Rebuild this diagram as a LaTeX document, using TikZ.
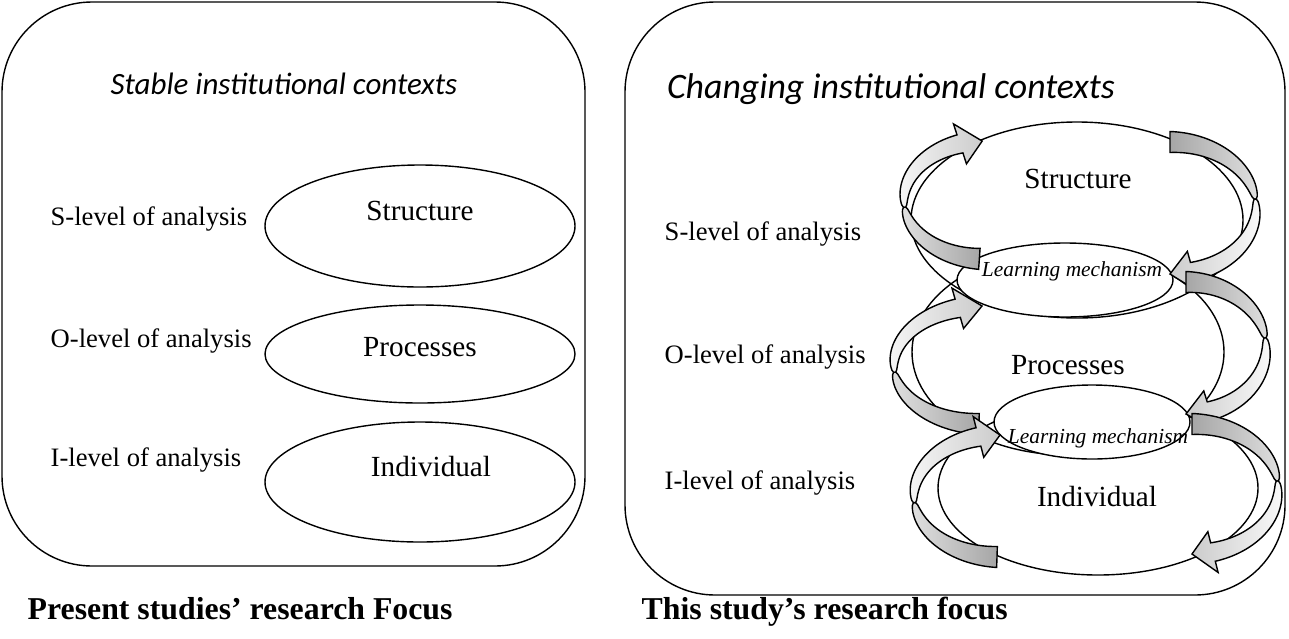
\documentclass[tikz,border=0pt]{standalone}
\usepackage{fontspec}
\setmainfont{Liberation Serif}
\newfontfamily\calibri{Carlito}
\usetikzlibrary{shapes.geometric}

% twisted band arrow: centre (#1,#2), radii #3/#4, tail/head/tip angles #5/#6/#7,
% #8 = shading of the back (tail) half, #9 = shading of the front (head) half
\newcommand{\twistarrow}[9]{%
  \pgfmathsetmacro\tmid{((#5)+(#6))/2}
  \filldraw[#8] plot[variable=\u, domain=0:1, samples=40]
      ({#1+(#3+1+9.5*sqrt(1-\u))*cos((#5)+(\tmid-(#5))*\u)},{#2+(#4+1+9.5*sqrt(1-\u))*sin((#5)+(\tmid-(#5))*\u)})
    -- plot[variable=\u, domain=0:1, samples=40]
      ({#1+(#3-1-9.5*sqrt(\u))*cos(\tmid+((#5)-\tmid)*\u)},{#2+(#4-1-9.5*sqrt(\u))*sin(\tmid+((#5)-\tmid)*\u)})
    -- cycle;
  \filldraw[#9] plot[variable=\u, domain=0:1, samples=40]
      ({#1+(#3+1+8.5*sqrt(\u))*cos(\tmid+((#6)-\tmid)*\u)},{#2+(#4+1+8.5*sqrt(\u))*sin(\tmid+((#6)-\tmid)*\u)})
    -- ({#1+(#3+21)*cos(#6)},{#2+(#4+21)*sin(#6)})
    -- ({#1+(#3)*cos(#7)},{#2+(#4)*sin(#7)})
    -- ({#1+(#3-21)*cos(#6)},{#2+(#4-21)*sin(#6)})
    -- plot[variable=\u, domain=0:1, samples=40]
      ({#1+(#3-1-8.5*sqrt(1-\u))*cos((#6)+(\tmid-(#6))*\u)},{#2+(#4-1-8.5*sqrt(1-\u))*sin((#6)+(\tmid-(#6))*\u)})
    -- cycle;
}

\tikzset{
  panel/.style={draw, rounded corners=45pt},
  level/.style={anchor=base west, inner sep=0pt, font=\fontsize{13.3}{15}\selectfont},
  core/.style={anchor=base, inner sep=0pt, font=\fontsize{14.6}{17}\selectfont},
  mech/.style={anchor=base, inner sep=0pt, font=\fontsize{10.7}{12}\selectfont\itshape},
  context/.style={anchor=base, inner sep=0pt, font=\fontsize{15.5}{18}\selectfont\calibri\itshape},
  caption/.style={anchor=base west, inner sep=0pt, font=\fontsize{15.9}{19}\selectfont\bfseries},
  backL/.style={left color=gray!25, right color=gray!70},
  frontL/.style={left color=gray!8, right color=gray!40},
  backR/.style={left color=gray!70, right color=gray!25},
  frontR/.style={left color=gray!40, right color=gray!5},
}

\begin{document}
\begin{tikzpicture}[x=0.5pt, y=-0.5pt, line width=0.7pt]
\useasboundingbox (0,0) rectangle (1289,638);

% left panel: stable contexts
\draw[panel] (2,2) rectangle (585,566);
\node[context] (stable) at (284,94) {Stable institutional contexts};
\draw (420,226) ellipse [x radius=155, y radius=61];
\draw (420,354) ellipse [x radius=155, y radius=49];
\draw (420,482) ellipse [x radius=155, y radius=60];
\node[level] (sl) at (50,225) {S-level of analysis};
\node[level] (ol) at (50,347) {O-level of analysis};
\node[level] (il) at (50,466) {I-level of analysis};
\node[core] (structl) at (420,220) {Structure};
\node[core] (procl) at (420,356) {Processes};
\node[core] (indl) at (431,476) {Individual};
\node[caption] (present) at (27,619) {Present studies’ research Focus};

% right panel: changing contexts
\draw[panel] (625,2) rectangle (1285,595);
\node[context, font=\fontsize{17.9}{20}\selectfont\calibri\itshape] (changing) at (891,98) {Changing institutional contexts};
\node[level] (sr) at (664,240) {S-level of analysis};
\node[level] (or) at (664,363) {O-level of analysis};
\node[level] (ir) at (664,489) {I-level of analysis};
\draw (1077,220) ellipse [x radius=166, y radius=98];
\draw (1068,352) ellipse [x radius=156, y radius=103];
\draw (1098,488) ellipse [x radius=160, y radius=87];
\filldraw[fill=white] (1065,280) ellipse [x radius=108, y radius=37];
\filldraw[fill=white] (1092,422) ellipse [x radius=98, y radius=37];
\node[core] (structr) at (1078,188) {Structure};
\node[core] (procr) at (1068,374) {Processes};
\node[core] (indr) at (1097,506) {Individual};
\node[mech] (mech1) at (1072,276) {Learning mechanism};
\node[mech] (mech2) at (1098,443) {Learning mechanism};
\node[caption] (thisstudy) at (641,619) {This study’s research focus};

% learning loops
\twistarrow{985}{200}{81}{59}{94}{252}{268}{backL}{frontL}
\twistarrow{1170}{208}{86}{66}{-90}{74.5}{90}{backR}{frontR}
\twistarrow{982}{365}{88}{59}{92}{254}{270}{backL}{frontL}
\twistarrow{1186}{348}{80}{66}{-90}{72.5}{90}{backR}{frontR}
\twistarrow{1000}{496}{86}{61}{92}{255.5}{270}{backL}{frontL}
\twistarrow{1192}{489}{86}{65}{-90}{75.9}{90}{backR}{frontR}
\end{tikzpicture}
\end{document}
